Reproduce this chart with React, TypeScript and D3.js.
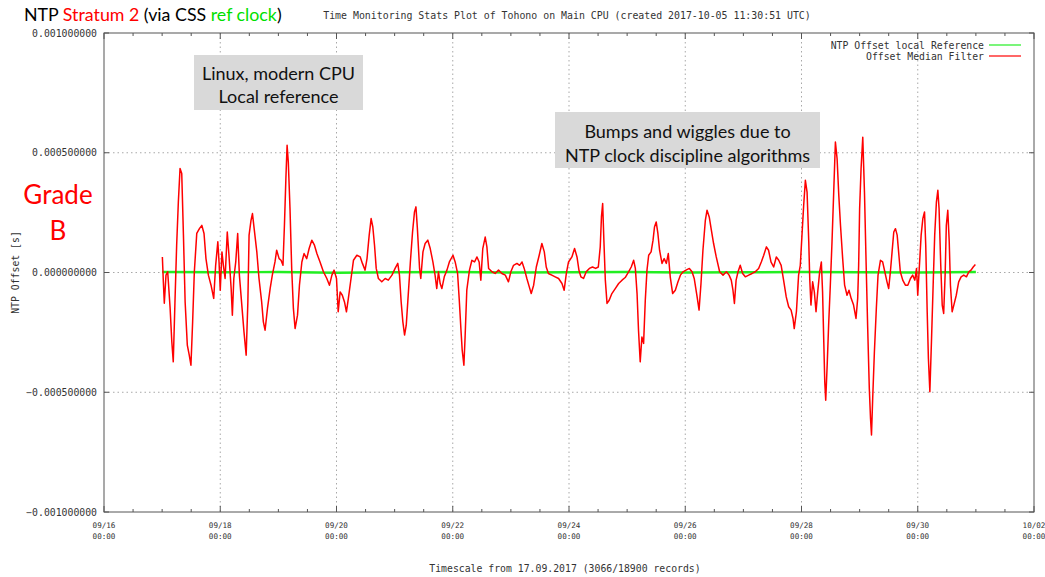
import React from "react";
import * as d3 from "d3";

// ---------- data ----------
const titleParts: { text: string; color: string }[] = [
  { text: "NTP ", color: "#000000" },
  { text: "Stratum 2", color: "#ff0000" },
  { text: " (via CSS ", color: "#000000" },
  { text: "ref clock", color: "#00e000" },
  { text: ")", color: "#000000" },
];
const plotTitle =
  "Time Monitoring Stats Plot of Tohono on Main CPU (created 2017-10-05 11:30:51 UTC)";
const xAxisTitle = "Timescale from 17.09.2017 (3066/18900 records)";
const yAxisTitle = "NTP Offset [s]";
const legendLabels = ["NTP Offset local Reference", "Offset Median Filter"];
const gradeLines = ["Grade", "B"];
const noteLinux = ["Linux, modern CPU", "Local reference"];
const noteBumps = ["Bumps and wiggles due to", "NTP clock discipline algorithms"];

const yTickValues = [-0.001, -0.0005, 0, 0.0005, 0.001];
const xDomain = [new Date(Date.UTC(2017, 8, 16)), new Date(Date.UTC(2017, 9, 2))];
const seriesStart = Date.UTC(2017, 8, 17); // hours below are counted from here

// [hours since 17.09 00:00, offset in microseconds]
const localReference: [number, number][] = [
  [0, 2], [24, 1], [48, 2], [72, -1], [96, 1], [120, 2], [144, 0], [168, 1],
  [192, 2], [216, 0], [240, 1], [264, 2], [288, 1], [312, 0], [336, 2],
];

const offsetMedian: [number, number][] = [
  [0.1, 65], [0.5, -39], [0.9, -128], [1.6, -11], [2.3, 3], [3.3, -149], [4.0, -289], [4.6, -373],
  [5.3, -123], [6.0, 114], [6.7, 294], [7.4, 434], [8.1, 413], [8.8, 156], [9.5, -123], [10.4, -303],
  [11.2, -345], [11.9, -387], [12.6, -206], [13.3, 3], [14.3, 163], [15.4, 183], [16.4, 197], [17.3, 163],
  [18.1, 58], [19.1, -11], [20.2, -53], [21.3, -108], [22.1, 30], [23.0, 128], [23.5, 44], [24.0, -74],
  [24.7, 86], [25.3, 30], [26.0, -25], [26.9, 169], [27.6, 72], [28.5, -67], [29.0, -178], [29.6, -25],
  [30.4, 44], [31.2, 163], [31.9, -11], [32.9, -136], [33.8, -248], [34.7, -345], [35.4, -123], [35.9, 156],
  [36.7, 218], [37.3, 246], [38.0, 183], [39.1, 86], [40.0, -25], [41.1, -123], [41.8, -206], [42.5, -241],
  [43.5, -150], [44.6, -67], [45.5, -11], [46.6, 44], [47.3, 93], [48.3, 58], [49.1, 51], [49.9, 30],
  [50.5, 197], [51.1, 392], [51.6, 531], [52.1, 461], [52.8, 267], [53.5, 17], [54.2, -150], [54.9, -234],
  [55.9, -178], [56.7, -53], [57.7, 44], [58.6, 79], [59.7, 58], [60.7, 100], [61.8, 135], [62.9, 114],
  [63.9, 79], [65.2, 44], [66.6, 3], [68.0, -25], [69.1, -53], [70.1, -11], [71.0, 10], [72.0, -25],
  [72.7, -164], [73.5, -81], [74.4, -95], [75.3, -123], [76.1, -164], [76.9, -108], [78.0, -25], [79.0, 51],
  [80.4, 72], [81.8, 65], [82.7, 38], [83.8, 10], [84.6, 58], [85.5, 156], [86.3, 225], [87.0, 190],
  [87.7, 114], [88.4, 17], [89.3, -25], [90.7, -39], [92.1, -25], [93.4, -32], [94.9, -11], [96.2, 17],
  [97.3, 38], [98.0, -11], [98.7, -123], [99.4, -206], [100.1, -261], [100.8, -220], [101.7, -81], [102.5, 44],
  [103.4, 169], [104.2, 253], [104.8, 274], [105.4, 183], [106.3, 17], [106.8, -25], [107.7, 86], [108.6, 121],
  [109.7, 135], [110.7, 100], [111.8, 44], [112.7, -11], [113.4, -67], [114.1, 3], [114.8, -46], [115.5, -67],
  [116.5, -18], [117.6, 10], [118.6, 44], [120.1, 72], [121.0, 44], [122.0, -4], [122.7, -116], [123.4, -241],
  [123.9, -324], [124.6, -387], [125.1, -269], [125.8, -74], [126.9, 10], [127.9, 51], [129.0, 44], [130.0, 65],
  [130.9, 44], [131.6, -32], [132.4, 100], [133.4, 148], [134.1, 107], [134.8, 17], [136.2, 3], [137.5, -4],
  [138.9, 10], [140.3, -4], [141.7, -11], [143.0, -39], [144.0, 3], [145.1, 30], [146.5, 38], [147.6, 30],
  [148.6, 44], [149.5, 17], [150.6, -25], [151.6, -60], [152.4, -88], [153.4, -53], [154.5, 23], [155.7, 72],
  [156.8, 121], [157.8, 86], [158.6, 23], [159.5, -4], [160.9, -11], [162.3, -18], [163.7, -25], [165.1, -46],
  [166.0, -74], [166.9, -4], [167.8, 44], [169.2, 65], [170.3, 100], [171.3, 65], [172.1, 10], [172.9, -18],
  [174.0, -25], [175.1, 3], [176.4, 17], [177.7, 23], [179.0, 17], [180.1, 23], [180.9, 107], [181.4, 232],
  [181.9, 288], [182.4, 135], [183.0, -32], [183.7, -129], [184.6, -116], [185.7, -88], [187.1, -67], [188.5, -46],
  [189.9, -32], [191.2, -21], [192.6, 3], [193.7, 23], [194.7, 51], [195.4, 17], [196.1, -88], [196.7, -241],
  [197.4, -373], [198.1, -269], [198.8, -296], [199.5, -116], [200.2, 10], [200.9, 72], [201.9, 86], [202.7, 135],
  [203.3, 190], [204.0, 211], [204.7, 163], [205.4, 93], [206.4, 38], [207.3, 58], [208.2, 38], [209.0, 79],
  [209.8, -18], [210.8, -88], [211.9, -74], [213.0, -39], [214.0, -11], [215.1, 3], [216.3, 10], [217.7, 17],
  [218.8, 3], [219.7, -25], [220.9, -102], [221.7, -157], [222.5, -46], [223.3, 93], [224.3, 218], [225.0, 260],
  [225.9, 232], [226.8, 176], [227.7, 121], [228.8, 65], [230.2, 3], [231.6, -11], [233.0, 3], [234.1, -11],
  [235.0, -32], [235.7, -74], [236.3, -129], [237.0, -32], [237.8, 3], [238.7, 30], [239.7, -4], [240.8, -18],
  [242.2, -11], [243.6, -4], [244.9, 3], [246.3, 17], [247.4, 44], [248.4, 72], [249.5, 107], [250.4, 93],
  [251.4, 44], [252.5, 23], [253.6, 65], [254.6, 51], [255.6, 30], [256.6, -32], [257.7, -102], [258.7, -143],
  [259.7, -157], [260.5, -192], [261.0, -234], [261.9, -164], [262.8, -11], [263.5, 30], [264.2, 156], [264.9, 281],
  [265.6, 385], [266.3, 336], [267.0, 128], [267.4, -25], [267.9, -136], [268.6, -39], [269.3, -81], [270.0, -164],
  [270.7, -81], [271.5, 3], [272.2, 44], [272.7, -81], [273.2, -289], [273.6, -456], [274.0, -533], [274.6, -387],
  [275.2, -220], [275.9, -53], [276.6, 128], [277.3, 336], [278.0, 545], [278.7, 475], [279.4, 322], [280.1, 197],
  [281.0, 58], [281.8, -53], [282.8, -95], [283.6, -74], [284.5, -108], [285.5, -136], [286.5, -192], [287.2, -108],
  [287.6, 30], [288.0, 267], [288.6, 434], [289.3, 565], [290.0, 336], [290.7, 30], [291.3, -220], [292.0, -484],
  [292.5, -609], [292.9, -678], [293.4, -525], [294.1, -331], [294.9, -150], [295.6, -11], [296.6, 51], [297.5, 44],
  [298.4, 3], [299.3, -39], [300.0, -67], [300.7, 3], [301.4, 86], [302.1, 169], [302.8, 183], [303.5, 156],
  [304.1, 86], [304.8, 3], [305.8, -32], [306.9, -53], [307.9, -53], [309.0, -25], [309.9, -11], [310.8, -32],
  [311.5, 17], [312.0, -95], [312.7, 30], [313.4, 156], [314.1, 225], [314.8, 253], [315.3, 114], [315.9, -164],
  [316.4, -359], [317.0, -498], [317.7, -275], [318.4, -39], [319.0, 156], [319.7, 294], [320.3, 343], [320.8, 267],
  [321.5, 30], [322.1, -136], [322.7, -171], [323.3, -11], [323.8, 197], [324.4, 260], [325.0, 128], [325.5, -53],
  [326.2, -164], [326.9, -136], [327.9, -95], [328.9, -39], [329.9, -18], [331.0, -11], [332.1, -18], [333.1, 3],
  [334.0, 10], [334.9, 23], [335.8, 33],
];

// ---------- layout ----------
const W = 1045;
const H = 577;
const plot = { left: 104, right: 1034, top: 33, bottom: 512 };
const monoFont = "'DejaVu Sans Mono', 'Liberation Mono', monospace";
const noteFont = "Lato, 'Open Sans', sans-serif";
const axisColor = "#555555";
const textColor = "#333333";
const gridColor = "#a8a8a8";

export default function App() {
  const x = d3.scaleUtc().domain(xDomain).range([plot.left, plot.right]);
  const y = d3.scaleLinear().domain([-0.001, 0.001]).range([plot.bottom, plot.top]);

  const toDate = (h: number) => new Date(seriesStart + h * 3600 * 1000);
  const line = d3
    .line<[number, number]>()
    .x((d) => x(toDate(d[0])))
    .y((d) => y(d[1] * 1e-6));

  const majorTicks = d3.range(0, 9).map((i) => d3.utcHour.offset(xDomain[0], i * 48));
  const minorTicks = d3.range(0, 33).map((i) => d3.utcHour.offset(xDomain[0], i * 12));
  const fmtDay = d3.utcFormat("%m/%d");
  const fmtTime = d3.utcFormat("%H:%M");
  const fmtY = d3.format(".9f");

  const legendY = [45, 56];
  const legendColors = ["#22ee22", "#ff0000"];

  return (
    <svg
      width={W}
      height={H}
      style={{ position: "absolute", left: 0, top: 0, background: "#ffffff" }}
      xmlns="http://www.w3.org/2000/svg"
    >
      <rect x={0} y={0} width={W} height={H} fill="#ffffff" />

      {/* grid */}
      {yTickValues
        .filter((v) => v !== 0.001 && v !== -0.001)
        .map((v) => (
          <line
            key={"gy" + v}
            x1={plot.left}
            x2={plot.right}
            y1={y(v)}
            y2={y(v)}
            stroke={gridColor}
            strokeDasharray="1.5,3"
          />
        ))}
      {majorTicks.slice(1, -1).map((t) => (
        <line
          key={"gx" + +t}
          x1={x(t)}
          x2={x(t)}
          y1={plot.top}
          y2={plot.bottom}
          stroke={gridColor}
          strokeDasharray="1.5,3"
        />
      ))}

      {/* ticks */}
      {minorTicks.map((t, i) => {
        const len = i % 4 === 0 ? 6 : 3;
        return (
          <g key={"tx" + i} stroke={axisColor}>
            <line x1={x(t)} x2={x(t)} y1={plot.bottom} y2={plot.bottom - len} />
            <line x1={x(t)} x2={x(t)} y1={plot.top} y2={plot.top + len} />
          </g>
        );
      })}
      {yTickValues.map((v) => (
        <g key={"ty" + v} stroke={axisColor}>
          <line x1={plot.left} x2={plot.left + 5} y1={y(v)} y2={y(v)} />
          <line x1={plot.right} x2={plot.right - 5} y1={y(v)} y2={y(v)} />
        </g>
      ))}

      {/* frame */}
      <rect
        x={plot.left}
        y={plot.top}
        width={plot.right - plot.left}
        height={plot.bottom - plot.top}
        fill="none"
        stroke={axisColor}
      />

      {/* y tick labels */}
      {yTickValues.map((v) => (
        <text
          key={"ly" + v}
          x={plot.left - 7}
          y={y(v)}
          textAnchor="end"
          dominantBaseline="central"
          fontFamily={monoFont}
          fontSize={9.8}
          fill={textColor}
        >
          {fmtY(v)}
        </text>
      ))}

      {/* x tick labels */}
      {majorTicks.map((t) => (
        <text
          key={"lx" + +t}
          x={x(t)}
          textAnchor="middle"
          fontFamily={monoFont}
          fontSize={7.6}
          fill={textColor}
        >
          <tspan x={x(t)} y={528}>
            {fmtDay(t)}
          </tspan>
          <tspan x={x(t)} y={538.5}>
            {fmtTime(t)}
          </tspan>
        </text>
      ))}

      {/* series */}
      <path
        d={line(localReference) || ""}
        fill="none"
        stroke={legendColors[0]}
        strokeWidth={2.4}
      />
      <path
        d={line(offsetMedian) || ""}
        fill="none"
        stroke={legendColors[1]}
        strokeWidth={1.5}
        strokeLinejoin="round"
      />

      {/* legend */}
      {legendLabels.map((l, i) => (
        <g key={"lg" + i}>
          <text
            x={984}
            y={legendY[i]}
            textAnchor="end"
            dominantBaseline="central"
            fontFamily={monoFont}
            fontSize={9.8}
            fill={textColor}
          >
            {l}
          </text>
          <line
            x1={989}
            x2={1021}
            y1={legendY[i]}
            y2={legendY[i]}
            stroke={legendColors[i]}
            strokeWidth={1.2}
          />
        </g>
      ))}

      {/* titles */}
      <text
        x={24}
        y={14}
        dominantBaseline="central"
        fontFamily={noteFont}
        fontSize={17.8}
        fill="#000"
      >
        {titleParts.map((p, i) => (
          <tspan key={i} fill={p.color}>
            {p.text}
          </tspan>
        ))}
      </text>
      <text
        x={567}
        y={15}
        textAnchor="middle"
        dominantBaseline="central"
        fontFamily={monoFont}
        fontSize={9.9}
        fill={textColor}
      >
        {plotTitle}
      </text>
      <text
        x={565}
        y={568}
        textAnchor="middle"
        dominantBaseline="central"
        fontFamily={monoFont}
        fontSize={9.8}
        fill={textColor}
      >
        {xAxisTitle}
      </text>
      <text
        transform={`translate(15,${y(0)}) rotate(-90)`}
        textAnchor="middle"
        dominantBaseline="central"
        fontFamily={monoFont}
        fontSize={9.8}
        fill={textColor}
      >
        {yAxisTitle}
      </text>

      {/* grade */}
      {gradeLines.map((g, i) => (
        <text
          key={"gr" + i}
          x={58}
          y={194 + i * 36}
          textAnchor="middle"
          dominantBaseline="central"
          fontFamily={noteFont}
          fontSize={26}
          fill="#ff0000"
        >
          {g}
        </text>
      ))}

      {/* annotations */}
      <rect x={194} y={55} width={169} height={55} fill="#d9d9d9" />
      {noteLinux.map((t, i) => (
        <text
          key={"n1" + i}
          x={278.5}
          y={73 + i * 23}
          textAnchor="middle"
          dominantBaseline="central"
          fontFamily={noteFont}
          fontSize={18}
          fill="#111"
        >
          {t}
        </text>
      ))}
      <rect x={555} y={112} width={265} height={56} fill="#d9d9d9" />
      {noteBumps.map((t, i) => (
        <text
          key={"n2" + i}
          x={687.5}
          y={131 + i * 24}
          textAnchor="middle"
          dominantBaseline="central"
          fontFamily={noteFont}
          fontSize={18}
          fill="#111"
        >
          {t}
        </text>
      ))}
    </svg>
  );
}
